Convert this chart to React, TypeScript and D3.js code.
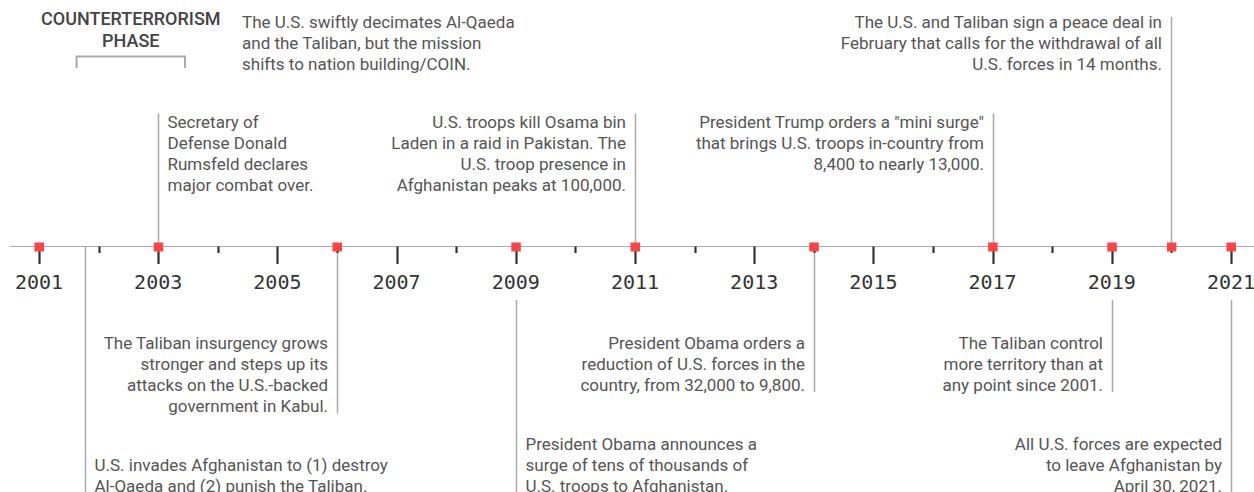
import React from "react";
import * as d3 from "d3";

const W = 1254;
const H = 492;

// Years on the axis
const axisYears = d3.range(2001, 2022);
// Years with a red marker
const markerYears = [2001, 2003, 2006, 2009, 2011, 2014, 2017, 2019, 2020, 2021];

// Event dates (decimal years) where callout lines are drawn
const eventDates = [2001.78, 2003, 2006, 2009, 2011, 2014, 2017, 2019, 2020, 2021];
// Which side / row each event sits in
const eventRows = ["D", "B", "C", "D", "B", "C", "B", "C", "A", "D"];
const eventAnchors = ["start", "start", "end", "start", "end", "end", "end", "end", "end", "end"];
const eventTexts: string[][] = [
  ["", "U.S. invades Afghanistan to (1) destroy", "Al-Qaeda and (2) punish the Taliban."],
  ["Secretary of", "Defense Donald", "Rumsfeld declares", "major combat over."],
  ["The Taliban insurgency grows", "stronger and steps up its", "attacks on the U.S.-backed", "government in Kabul."],
  ["President Obama announces a", "surge of tens of thousands of", "U.S. troops to Afghanistan."],
  ["U.S. troops kill Osama bin", "Laden in a raid in Pakistan. The", "U.S. troop presence  in", "Afghanistan peaks at 100,000."],
  ["President Obama orders a", "reduction of U.S. forces in the", "country, from 32,000 to 9,800."],
  ["President Trump orders a \"mini surge\"", "that brings U.S. troops in-country from", "8,400 to nearly 13,000."],
  ["The Taliban control", "more territory than at", "any point since 2001."],
  ["The U.S. and Taliban sign a peace deal in", "February that calls for the withdrawal of all", "U.S. forces in 14 months."],
  ["All U.S. forces are expected", "to leave Afghanistan by", "April 30, 2021."],
];

const phaseTitle = ["COUNTERTERRORISM", "PHASE"];
const phaseRange = [2001.63, 2003.45];
const phaseText = [
  "The U.S. swiftly decimates Al-Qaeda",
  "and the Taliban, but the mission",
  "shifts to nation building/COIN.",
];

const FONT = "Roboto, 'Noto Sans', sans-serif";
const MONO = "'DejaVu Sans Mono', 'Liberation Mono', monospace";
const TEXT_COLOR = "#555555";
const LINE_COLOR = "#aaaaaa";
const RED = "#fc4445";
const LH = 21.3;
const FS = 17;

const rowBaseline: Record<string, number> = { A: 27.5, B: 127.5, C: 348.5, D: 449.5 };

export default function App() {
  const x = d3.scaleLinear().domain([2001, 2021]).range([39, 1231]);
  const axisY = 246.5;
  const labeled = (d: number) => Number.isInteger(d) && d % 2 === 1;

  return (
    <svg
      width={W}
      height={H}
      style={{ position: "absolute", left: 0, top: 0, background: "#fff" }}
      fontFamily={FONT}
    >
      {/* Event lines */}
      {eventDates.map((d, i) => {
        const row = eventRows[i];
        const lines = eventTexts[i];
        const b0 = rowBaseline[row];
        const xx = Math.round(x(d)) + 0.5;
        const below = labeled(d) ? 300 : axisY;
        let y1: number, y2: number;
        if (row === "A") {
          y1 = 17;
          y2 = axisY;
        } else if (row === "B") {
          y1 = b0 - 14;
          y2 = axisY;
        } else if (row === "C") {
          y1 = below;
          y2 = b0 + LH * (lines.length - 1) + 1;
        } else {
          y1 = below;
          y2 = H;
        }
        return (
          <line key={"l" + i} x1={xx} x2={xx} y1={y1} y2={y2} stroke={LINE_COLOR} strokeWidth={1.5} />
        );
      })}

      {/* Axis line */}
      <line x1={10} x2={W} y1={axisY} y2={axisY} stroke={LINE_COLOR} strokeWidth={1.2} />

      {/* Ticks */}
      {axisYears.map((yr) => {
        const major = yr % 2 === 1;
        const xx = Math.round(x(yr)) + 0.5;
        return (
          <line
            key={"t" + yr}
            x1={xx}
            x2={xx}
            y1={axisY}
            y2={major ? 264 : 253}
            stroke="#333"
            strokeWidth={2.2}
          />
        );
      })}

      {/* Tick labels */}
      {axisYears
        .filter((yr) => yr % 2 === 1)
        .map((yr) => (
          <text
            key={"tl" + yr}
            x={x(yr)}
            y={289}
            textAnchor="middle"
            fontFamily={MONO}
            fontSize={20}
            fill="#333"
          >
            {yr}
          </text>
        ))}

      {/* Markers */}
      {markerYears.map((yr) => (
        <rect key={"m" + yr} x={x(yr) - 4.5} y={axisY - 4} width={9.5} height={9} fill={RED} />
      ))}

      {/* Event texts */}
      {eventTexts.map((lines, i) => {
        const row = eventRows[i];
        const anchor = eventAnchors[i];
        const xx = Math.round(x(eventDates[i])) + (anchor === "start" ? 9.5 : -9);
        const b0 = rowBaseline[row];
        return (
          <text key={"e" + i} fontSize={FS} fill={TEXT_COLOR} textAnchor={anchor}>
            {lines.map((s, j) => (
              <tspan key={j} x={xx} y={b0 + LH * j}>
                {s}
              </tspan>
            ))}
          </text>
        );
      })}

      {/* Phase header */}
      <text fontSize={18} fontWeight={500} fill="#444" textAnchor="middle">
        {phaseTitle.map((s, j) => (
          <tspan key={j} x={(x(phaseRange[0]) + x(phaseRange[1])) / 2} y={25 + 22 * j}>
            {s}
          </tspan>
        ))}
      </text>
      <path
        d={`M${x(phaseRange[0])},68V56.5H${x(phaseRange[1])}V68`}
        fill="none"
        stroke={LINE_COLOR}
        strokeWidth={2}
      />
      <text fontSize={FS} fill={TEXT_COLOR}>
        {phaseText.map((s, j) => (
          <tspan key={j} x={242} y={27.5 + LH * j}>
            {s}
          </tspan>
        ))}
      </text>
    </svg>
  );
}
